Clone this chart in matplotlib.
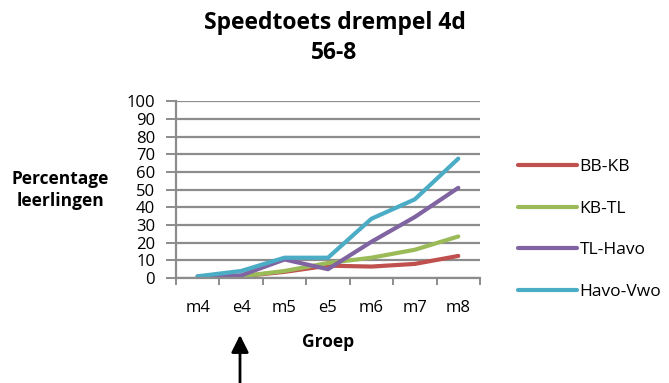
import matplotlib
matplotlib.use("Agg")
import matplotlib.pyplot as plt

plt.rcParams['font.family'] = ['Open Sans', 'DejaVu Sans']

groepen = ["m4", "e4", "m5", "e5", "m6", "m7", "m8"]
bb_kb = [0.5, 1, 3.5, 7, 6.5, 8, 12.5]
kb_tl = [0.5, 1, 4, 8.5, 11.5, 16, 23.5]
tl_havo = [1, 1.5, 10.5, 5, 20.5, 34.5, 51]
havo_vwo = [1, 4, 11.5, 11.5, 33.5, 44.5, 67.5]

series = [
    ("BB-KB", bb_kb, "#C0504D"),
    ("KB-TL", kb_tl, "#9BBB59"),
    ("TL-Havo", tl_havo, "#8064A2"),
    ("Havo-Vwo", havo_vwo, "#4BACC6"),
]

grid_col = "#8C8C8C"

fig = plt.figure(figsize=(6.69, 3.83), dpi=100)
ax = fig.add_axes([0.263, 0.274, 0.4545, 0.462])

x = list(range(len(groepen)))
handles = []
for name, vals, col in series:
    h, = ax.plot(x, vals, color=col, linewidth=3, solid_joinstyle='round',
                 solid_capstyle='round', label=name)
    handles.append(h)

ax.set_xlim(-0.5, len(groepen) - 0.5)
ax.set_ylim(0, 100)
ax.set_yticks(range(0, 101, 10))
ax.yaxis.grid(True, color=grid_col, linewidth=1.6)
ax.set_axisbelow(True)

# category boundaries get the tick marks, centres get the labels
ax.set_xticks([i - 0.5 for i in range(len(groepen) + 1)])
ax.set_xticklabels([])
ax.set_xticks(x, minor=True)
ax.set_xticklabels(groepen, minor=True, fontsize=12)
ax.tick_params(axis='x', which='major', length=5, width=1.4, color=grid_col)
ax.tick_params(axis='x', which='minor', length=0, pad=16)
ax.tick_params(axis='y', length=7, width=1.4, color=grid_col, labelsize=12, pad=8)

for side in ['top', 'right']:
    ax.spines[side].set_visible(False)
for side in ['left', 'bottom']:
    ax.spines[side].set_color(grid_col)
    ax.spines[side].set_linewidth(1.6)

ax.set_xlabel("Groep", fontsize=12.5, fontweight='bold', labelpad=12)
fig.text(0.09, 0.503, "Percentage\nleerlingen", ha='center', va='center',
         fontsize=12.5, fontweight='bold', linespacing=1.3)

fig.suptitle("Speedtoets drempel 4d\n56-8", x=0.5, y=0.972, fontsize=16.5,
             fontweight='bold', linespacing=1.35)

fig.legend(handles=handles, loc='upper left', bbox_to_anchor=(0.774, 0.585),
           frameon=False, fontsize=12.5, handlelength=3.4, labelspacing=1.47,
           handletextpad=0.15, borderpad=0, borderaxespad=0)

ax.annotate("", xy=(240, 48), xycoords='figure pixels',
            xytext=(240, 0), textcoords='figure pixels',
            arrowprops=dict(arrowstyle='-|>', color='black', lw=2,
                            mutation_scale=26, shrinkA=0, shrinkB=0))

fig.savefig("out.png", dpi=100)
